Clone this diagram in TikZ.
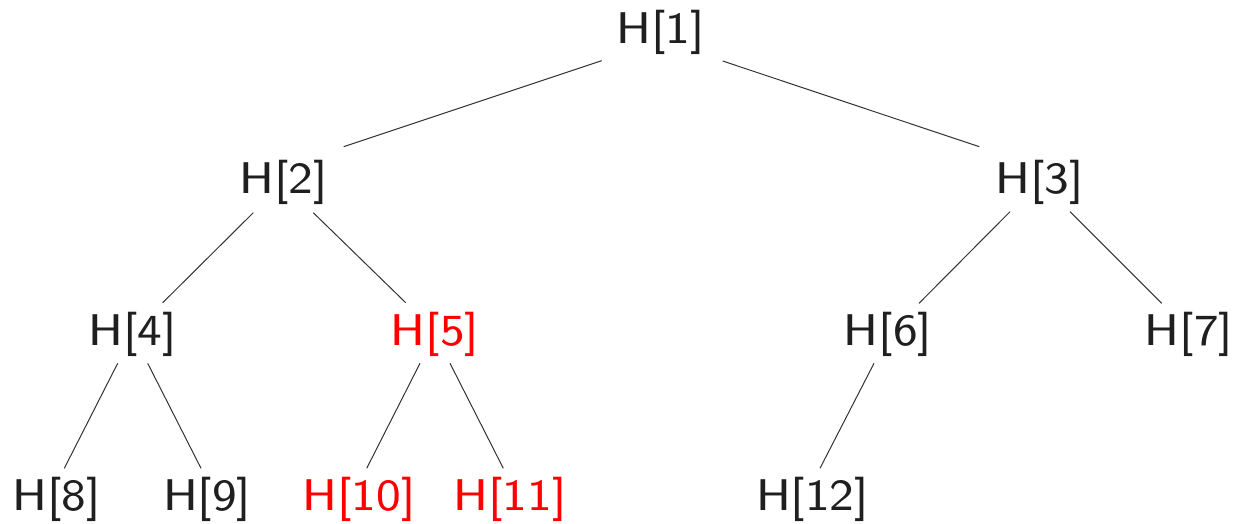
\documentclass[tikz,border=0pt]{standalone}
\usepackage{graphicx}
\usetikzlibrary{calc}
\newcommand\hlab[1]{\scalebox{5.8}[5.55]{\fontsize{8}{10}\selectfont\sffamily #1}}
\tikzset{
  hn/.style={anchor=base, inner sep=0pt, text=black!88},
  hred/.style={hn, text=red},
  edge/.style={draw=black!80, line width=1pt}
}
\begin{document}
\begin{tikzpicture}[x=1pt,y=-1pt]
\useasboundingbox (0,0) rectangle (1236,523);
\node[hn]   (h1)  at (660.5,43.3) {\hlab{H[1]}};
\node[hn]   (h2)  at (283.3,193.3) {\hlab{H[2]}};
\node[hn]   (h3)  at (1039.7,193.3) {\hlab{H[3]}};
\node[hn]   (h4)  at (132.7,345) {\hlab{H[4]}};
\node[hred] (h5)  at (435,345) {\hlab{H[5]}};
\node[hn]   (h6)  at (888,345) {\hlab{H[6]}};
\node[hn]   (h7)  at (1189,345) {\hlab{H[7]}};
\node[hn]   (h8)  at (56.7,510.7) {\hlab{H[8]}};
\node[hn]   (h9)  at (207.2,510.7) {\hlab{H[9]}};
\node[hred] (h10) at (359,510.7) {\hlab{H[10]}};
\node[hred] (h11) at (510,510.7) {\hlab{H[11]}};
\node[hn]   (h12) at (812.5,510.7) {\hlab{H[12]}};
\draw[edge] ($(h1.base)+(-58.8,17.4)$) -- ($(h2.base)+(60.4,-46.6)$);
\draw[edge] ($(h1.base)+(62.2,17.7)$) -- ($(h3.base)+(-60.4,-46.6)$);
\draw[edge] ($(h2.base)+(-30,19.4)$) -- ($(h4.base)+(30,-42.3)$);
\draw[edge] ($(h2.base)+(30,19.4)$) -- ($(h5.base)+(-29.3,-42.3)$);
\draw[edge] ($(h3.base)+(-29.7,18.4)$) -- ($(h6.base)+(31,-41.7)$);
\draw[edge] ($(h3.base)+(30.3,18.4)$) -- ($(h7.base)+(-27.3,-41.7)$);
\draw[edge] ($(h4.base)+(-15,18.3)$) -- ($(h8.base)+(7.6,-42.4)$);
\draw[edge] ($(h4.base)+(15,18.3)$) -- ($(h9.base)+(-6.2,-42.4)$);
\draw[edge] ($(h5.base)+(-15,18.3)$) -- ($(h10.base)+(7.7,-42.4)$);
\draw[edge] ($(h5.base)+(15,18.3)$) -- ($(h11.base)+(-6.7,-42.4)$);
\draw[edge] ($(h6.base)+(-14,18.3)$) -- ($(h12.base)+(7.5,-42.4)$);
\end{tikzpicture}
\end{document}
